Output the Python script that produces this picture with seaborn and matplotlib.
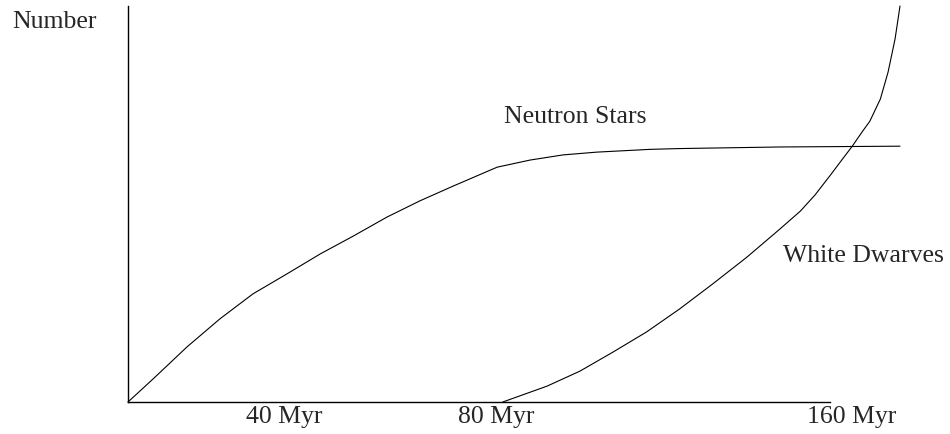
import matplotlib
matplotlib.use("Agg")
import matplotlib.pyplot as plt
import pandas as pd
import seaborn as sns

# schematic time axis (arbitrary units, drawn axis runs 0..100)
ns_time = [0, 3.56, 8.4, 13.1, 17.8, 22.6, 27.4, 32.1, 36.9, 41.6, 46.3,
           52.6, 57.3, 62.0, 66.8, 74.4, 78.6, 92.9, 110.0]
ns_number = [0, 5.8, 13.9, 21.0, 27.3, 32.3, 37.4, 41.9, 46.7, 50.8, 54.5,
             59.3, 61.1, 62.4, 63.1, 63.8, 64.0, 64.4, 64.6]

wd_time = [53.4, 59.7, 64.4, 69.1, 73.9, 78.6, 83.3, 88.2, 92.9, 95.8,
           97.9, 100.0, 101.7, 103.2, 104.6, 105.7, 107.2, 108.3, 109.3,
           110.0]
wd_number = [0, 4.0, 7.8, 12.6, 17.7, 23.5, 29.8, 36.6, 43.7, 48.2,
             52.3, 57.1, 61.1, 64.6, 68.2, 70.9, 76.5, 83.3, 91.7,
             100.0]

tick_pos = [22.2, 52.4, 103.1]
tick_labels = ["40 Myr", "80 Myr", "160 Myr"]

df_ns = pd.DataFrame({"time": ns_time, "number": ns_number})
df_wd = pd.DataFrame({"time": wd_time, "number": wd_number})

sns.set_style("white")
plt.rcParams["font.family"] = ["Liberation Serif", "DejaVu Serif"]
FS = 18.5

fig = plt.figure(figsize=(9.5, 4.35), dpi=100)
ax = fig.add_axes([128 / 950, (435 - 403) / 435, 772 / 950, 396 / 435])

for df in (df_ns, df_wd):
    sns.lineplot(data=df, x="time", y="number", sort=False, ax=ax,
                 color="black", linewidth=0.8, clip_on=False)

ax.set_xticks(tick_pos)
ax.set_xticklabels(tick_labels, fontsize=FS)
ax.tick_params(axis="x", length=0, pad=2)
ax.set_yticks([])
ax.set_xlabel("")
ax.set_ylabel("")
ax.set_xlim(0, 110)
ax.set_ylim(0, 100)

for side in ("top", "right"):
    ax.spines[side].set_visible(False)
for side in ("left", "bottom"):
    ax.spines[side].set_color("black")
    ax.spines[side].set_linewidth(1.0)
# the time axis stops short of where the curves end
ax.spines["bottom"].set_bounds(0, 100)

ax.text(-4.4, 96.2, "Number", ha="right", va="center", fontsize=FS,
        clip_on=False)
ax.text(63.7, 72.2, "Neutron Stars", ha="center", va="center", fontsize=FS)
ax.text(93.3, 37.1, "White Dwarves", ha="left", va="center", fontsize=FS,
        clip_on=False)

fig.savefig("out.png", dpi=100)
